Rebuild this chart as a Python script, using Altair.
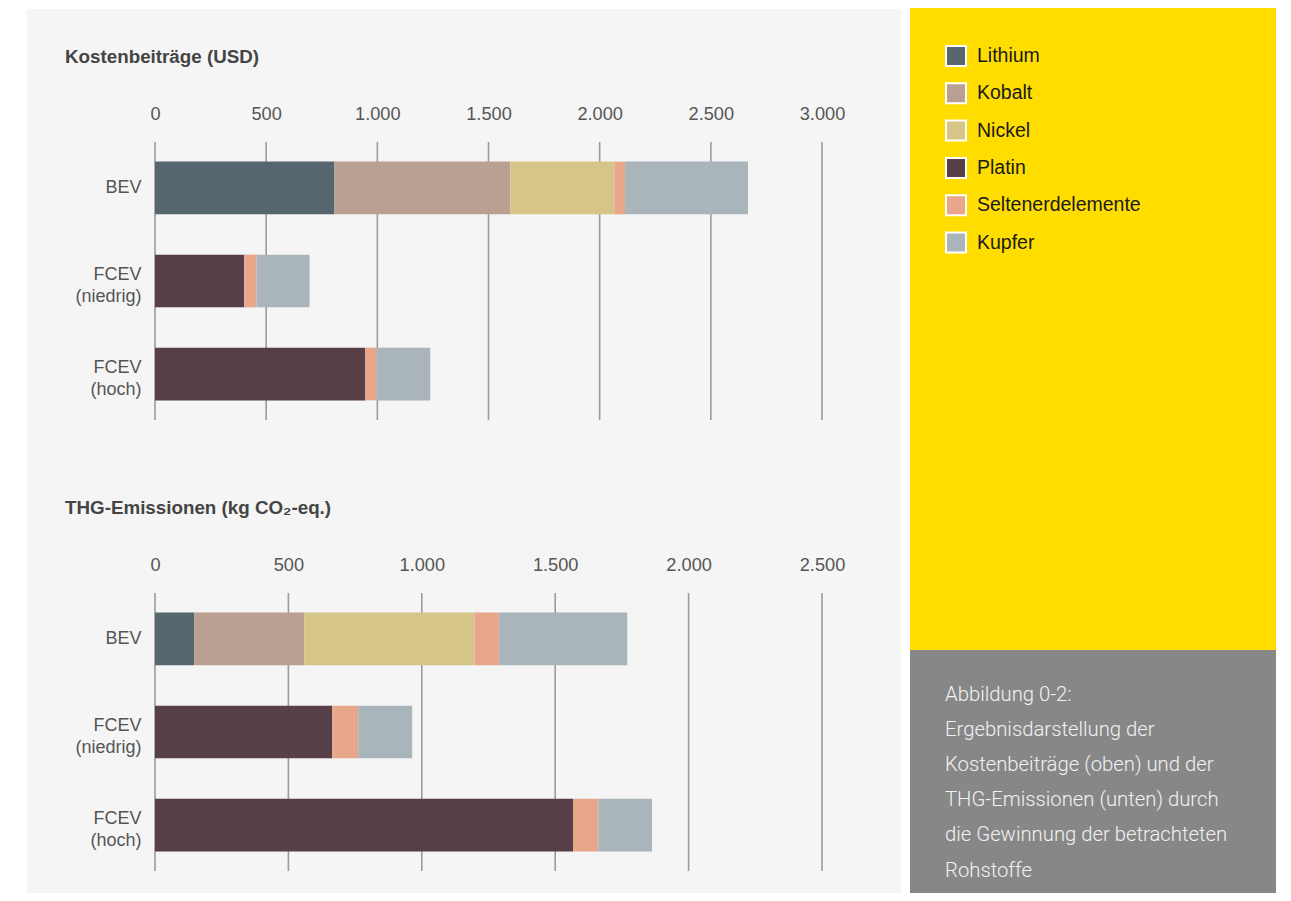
import altair as alt
import pandas as pd

FONT = "Liberation Sans"

materials = ["Lithium", "Kobalt", "Nickel", "Platin", "Seltenerdelemente", "Kupfer"]
colors = ["#56666e", "#b9a092", "#d6c589", "#563f49", "#e8a68a", "#a9b4bb"]
vehicles = ["BEV", "FCEV (niedrig)", "FCEV (hoch)"]

# Kostenbeiträge (USD) per material, in the order of `materials`
cost_bev = [807, 791, 468, 0, 48, 553]
cost_fcev_low = [0, 0, 0, 401, 56, 238]
cost_fcev_high = [0, 0, 0, 946, 51, 241]

# THG-Emissionen (kg CO2-eq.) per material
ghg_bev = [147, 412, 638, 0, 93, 480]
ghg_fcev_low = [0, 0, 0, 664, 98, 202]
ghg_fcev_high = [0, 0, 0, 1567, 95, 201]

cost_ticks = [0, 500, 1000, 1500, 2000, 2500, 3000]
ghg_ticks = [0, 500, 1000, 1500, 2000, 2500]

cost_title = "Kostenbeiträge (USD)"
ghg_title = "THG-Emissionen (kg CO₂-eq.)"

caption_lines = [
    "Abbildung 0-2:",
    "Ergebnisdarstellung der",
    "Kostenbeiträge (oben) und der",
    "THG-Emissionen (unten) durch",
    "die Gewinnung der betrachteten",
    "Rohstoffe",
]

W, H = 667, 278


def long_table(series):
    rows = []
    for veh, vals in zip(vehicles, series):
        for i, (m, v) in enumerate(zip(materials, vals)):
            if v > 0:
                rows.append({"vehicle": veh, "material": m, "value": v, "ord": i})
    return pd.DataFrame(rows)


legend = alt.Legend(
    orient="none", legendX=790, legendY=-97, title=None,
    symbolType="square", symbolSize=400, symbolStrokeColor="white",
    symbolStrokeWidth=2, symbolOpacity=1, labelFont=FONT, labelFontSize=19.5,
    labelColor="#1a1a1a", labelOffset=10, rowPadding=9.3, padding=0,
    labelLimit=0,
)


def panel(df, ticks, domain, title_text, extra_layers):
    xscale = alt.Scale(domain=domain, nice=False, zero=True)
    xaxis = alt.Axis(
        orient="top", values=ticks,
        labelExpr="replace(format(datum.value, ','), ',', '.')",
        grid=False, domain=False, ticks=False, tickSize=0, labelPadding=19,
        labelFlush=False, zindex=1, title=None, labelFontSize=18.2,
        labelColor="#555555", labelFont=FONT,
    )
    yaxis = alt.Axis(
        labelExpr="split(datum.label, ' ')", domain=False, ticks=False,
        tickSize=0, labelPadding=14, labelFontSize=18, labelColor="#555555",
        labelLineHeight=22, zindex=1, title=None, labelFont=FONT,
        labelOffset={"condition": {"test": "datum.value != 'BEV'", "value": -6},
                     "value": 0},
    )
    grid = alt.Chart(pd.DataFrame({"v": ticks})).mark_rule(
        color="#9b9b9b", strokeWidth=1.6
    ).encode(
        x=alt.X("v:Q", scale=xscale, axis=xaxis),
        y=alt.value(0), y2=alt.value(H),
    )
    bars = alt.Chart(df).mark_bar().encode(
        x=alt.X("value:Q", scale=xscale, axis=xaxis, stack="zero"),
        y=alt.Y("vehicle:N", sort=vehicles,
                scale=alt.Scale(paddingInner=0.433, paddingOuter=0.211),
                axis=yaxis),
        color=alt.Color("material:N",
                        scale=alt.Scale(domain=materials, range=colors),
                        legend=legend),
        order=alt.Order("ord:Q"),
    )
    title = alt.Chart(pd.DataFrame({"t": [title_text]})).mark_text(
        align="left", baseline="alphabetic", font=FONT, fontWeight="bold",
        fontSize=18.8, color="#444444",
    ).encode(text="t:N", x=alt.value(-90), y=alt.value(-79))
    return alt.layer(*extra_layers, grid, bars, title).properties(width=W, height=H)


def rect(color, x, x2, y, y2):
    return alt.Chart(pd.DataFrame({"k": [0]})).mark_rect(color=color).encode(
        x=alt.value(x), x2=alt.value(x2), y=alt.value(y), y2=alt.value(y2)
    )


bg_left = rect("#f5f5f5", -128, 746, -133, 751)
bg_yellow = rect("#ffdd00", 755, 1121, -134, 508)
bg_gray = rect("#878787", 755, 1121, 508, 751)
caption = alt.Chart(pd.DataFrame({"k": [0]})).mark_text(
    align="left", baseline="alphabetic", font="Roboto", fontWeight=300,
    fontSize=20.3, color="#f2f2f2", lineHeight=35.1,
).encode(text=alt.value(caption_lines), x=alt.value(790), y=alt.value(559))

top = panel(long_table([cost_bev, cost_fcev_low, cost_fcev_high]), cost_ticks,
            [0, 3000], cost_title, [bg_left, bg_yellow, bg_gray, caption])
bottom = panel(long_table([ghg_bev, ghg_fcev_low, ghg_fcev_high]), ghg_ticks,
               [0, 2500], ghg_title, [])

chart = alt.vconcat(top, bottom, spacing=173, bounds="flush").properties(
    padding={"left": 19, "top": 0, "right": 0, "bottom": 0},
    background="white",
).configure_view(stroke=None)

chart.save("out.html", embed_options={"renderer": "svg", "actions": False})
